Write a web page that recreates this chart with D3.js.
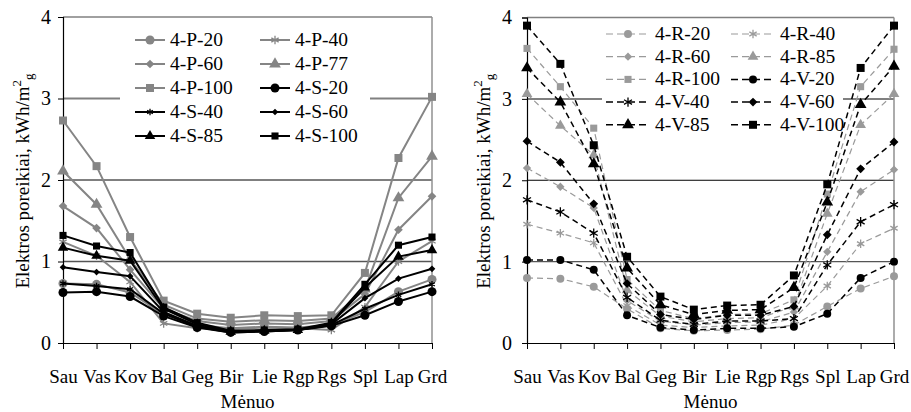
<!DOCTYPE html>
<html><head><meta charset="utf-8">
<script src="https://cdn.jsdelivr.net/npm/d3@7"></script>
<style>
body{margin:0;background:#fff;}
</style></head>
<body><svg id="c" width="911" height="412"></svg>
<script>
const months = ["Sau","Vas","Kov","Bal","Geg","Bir","Lie","Rgp","Rgs","Spl","Lap","Grd"];
const yTicks = [0,1,2,3,4];
const xTitle = "Mėnuo";

const leftNames = ["4-P-20","4-P-40","4-P-60","4-P-77","4-P-100","4-S-20","4-S-40","4-S-60","4-S-85","4-S-100"];
const p20  = [0.73,0.72,0.62,0.35,0.22,0.18,0.20,0.19,0.22,0.38,0.63,0.78];
const p40  = [1.24,1.07,0.75,0.24,0.18,0.17,0.19,0.18,0.16,0.44,1.00,1.25];
const p60  = [1.68,1.41,0.90,0.42,0.27,0.22,0.24,0.23,0.27,0.60,1.39,1.80];
const p77  = [2.11,1.70,1.03,0.47,0.30,0.26,0.28,0.27,0.30,0.66,1.78,2.29];
const p100 = [2.73,2.17,1.30,0.52,0.36,0.31,0.34,0.33,0.34,0.86,2.27,3.02];
const s20  = [0.62,0.63,0.57,0.33,0.19,0.13,0.14,0.16,0.21,0.34,0.51,0.63];
const s40  = [0.73,0.70,0.66,0.36,0.20,0.13,0.14,0.16,0.22,0.42,0.59,0.72];
const s60  = [0.93,0.87,0.82,0.38,0.21,0.14,0.15,0.16,0.23,0.55,0.79,0.91];
const s85  = [1.17,1.07,1.01,0.42,0.23,0.14,0.15,0.16,0.24,0.68,1.06,1.14];
const s100 = [1.32,1.19,1.11,0.44,0.25,0.15,0.16,0.17,0.25,0.72,1.20,1.30];

const rightNames = ["4-R-20","4-R-40","4-R-60","4-R-85","4-R-100","4-V-20","4-V-40","4-V-60","4-V-85","4-V-100"];
const r20  = [0.80,0.79,0.69,0.42,0.18,0.15,0.16,0.17,0.22,0.45,0.67,0.82];
const r40  = [1.46,1.35,1.23,0.46,0.22,0.19,0.21,0.22,0.30,0.70,1.22,1.41];
const r60  = [2.15,1.92,1.66,0.52,0.27,0.22,0.25,0.26,0.38,1.12,1.86,2.13];
const r85  = [3.06,2.67,2.31,0.65,0.33,0.26,0.30,0.31,0.45,1.59,2.68,3.06];
const r100 = [3.62,3.15,2.64,0.78,0.40,0.30,0.35,0.36,0.53,1.83,3.15,3.61];
const v20  = [1.02,1.02,0.90,0.34,0.19,0.16,0.18,0.18,0.20,0.36,0.80,1.00];
const v40  = [1.76,1.61,1.35,0.56,0.28,0.23,0.27,0.27,0.30,0.96,1.49,1.70];
const v60  = [2.48,2.22,1.71,0.73,0.35,0.29,0.34,0.34,0.45,1.33,2.14,2.47];
const v85  = [3.38,2.96,2.20,0.92,0.47,0.35,0.40,0.41,0.68,1.73,2.93,3.40];
const v100 = [3.90,3.43,2.43,1.06,0.57,0.41,0.46,0.47,0.83,1.95,3.38,3.90];

const FONT = "Liberation Serif";
const svg = d3.select("#c");
const GL = "#858585", GR = "#9a9a9a";

function sym(type){
  return {circle:d3.symbolCircle, asterisk:d3.symbolAsterisk, diamond:d3.symbolDiamond2,
          triangle:d3.symbolTriangle, square:d3.symbolSquare}[type];
}
function drawMarker(sel, s){
  const p = d3.symbol().type(sym(s.shape)).size(s.size)();
  const m = sel.append("path").attr("d", p);
  if (s.shape === "asterisk") m.attr("fill","none").attr("stroke", s.color).attr("stroke-width",1.3);
  else m.attr("fill", s.color).attr("stroke","none");
  return m;
}

function panel(cfg){
  const x = d3.scalePoint().domain(months).range([cfg.x0, cfg.x1]);
  const y = d3.scaleLinear().domain([0,4]).range([cfg.yb, cfg.yt]);
  const g = svg.append("g");
  const gridStyle = {1:["#555",1.4],2:["#000",1],3:["#808080",2]};
  [1,2,3].forEach(v=>{
    g.append("line").attr("x1",cfg.x0).attr("x2",cfg.x1).attr("y1",y(v)).attr("y2",y(v))
     .attr("stroke",gridStyle[v][0]).attr("stroke-width",gridStyle[v][1]);
  });
  g.append("line").attr("x1",cfg.x0).attr("x2",cfg.x1).attr("y1",y(4)).attr("y2",y(4)).attr("stroke","#808080").attr("stroke-width",1.5);
  g.append("line").attr("x1",cfg.x1).attr("x2",cfg.x1).attr("y1",y(4)).attr("y2",y(0)).attr("stroke","#909090").attr("stroke-width",1.5);
  const ya = g.append("g").attr("transform",`translate(${cfg.x0},0)`)
    .call(d3.axisLeft(y).tickValues(yTicks).tickFormat(d3.format("d")).tickSize(5).tickPadding(cfg.tickPad));
  ya.attr("font-family",FONT).attr("font-size",20);
  ya.select(".domain").attr("stroke","#000").attr("stroke-width",1.2);
  ya.selectAll("text").attr("fill","#000");
  const xa = g.append("g").attr("transform",`translate(0,${cfg.yb})`)
    .call(d3.axisBottom(x).tickSize(6).tickPadding(20).tickSizeOuter(0));
  xa.attr("font-family",FONT).attr("font-size",19);
  xa.select(".domain").attr("stroke","#000").attr("stroke-width",1.2);
  xa.selectAll("line").attr("stroke","#000");
  xa.selectAll("text").attr("fill","#000").attr("dy","0").attr("y",40);
  g.append("text").attr("x",(cfg.x0+cfg.x1)/2).attr("y",408).attr("text-anchor","middle")
    .attr("font-size",19).attr("font-family",FONT).text(xTitle);
  const yl = g.append("text").attr("transform",`translate(${cfg.ylx},${(cfg.yt+cfg.yb)/2+1}) rotate(-90)`)
    .attr("text-anchor","middle").attr("font-size",19).attr("font-family",FONT);
  yl.append("tspan").text("Elektros poreikiai, kWh/m");
  yl.append("tspan").attr("font-size",13).attr("dy",-8).text("2");
  yl.append("tspan").attr("font-size",13).attr("dy",12).text("g");
  g.append("rect").attr("x",cfg.leg.x).attr("y",cfg.leg.y).attr("width",cfg.leg.w).attr("height",cfg.leg.h).attr("fill","#fff");
  const line = d3.line().x((d,i)=>x(months[i])).y(d=>y(d));
  cfg.series.forEach(s=>{
    const pth = g.append("path").datum(s.values).attr("d",line).attr("fill","none")
      .attr("stroke",s.color).attr("stroke-width",s.width);
    if (s.dash) pth.attr("stroke-dasharray",s.dash);
    s.values.forEach((v,i)=>{
      drawMarker(g,s).attr("transform",`translate(${x(months[i])},${y(v)})`);
    });
  });
  cfg.series.forEach((s,k)=>{
    const col = k%2, row = Math.floor(k/2);
    const lx = cfg.leg.cols[col], ly = cfg.leg.r0 + row*cfg.leg.dy;
    const ln = g.append("line").attr("x1",lx).attr("x2",lx+cfg.leg.len).attr("y1",ly).attr("y2",ly)
      .attr("stroke",s.color).attr("stroke-width",s.width);
    if (s.dash) ln.attr("stroke-dasharray",cfg.leg.dash);
    drawMarker(g,s).attr("transform",`translate(${lx+cfg.leg.len/2},${ly})`);
    g.append("text").attr("x",lx+cfg.leg.len+5).attr("y",ly+6).attr("font-size",19.5)
      .attr("font-family",FONT).text(s.name);
  });
}

const shapes = ["circle","asterisk","diamond","triangle","square"];
const leftVals = [p20,p40,p60,p77,p100,s20,s40,s60,s85,s100];
const leftSizes = [64,50,48,60,64, 64,30,28,48,50];
const leftSeries = leftNames.map((n,i)=>({name:n, values:leftVals[i], shape:shapes[i%5],
  color: i<5?GL:"#000", width:2, size:leftSizes[i]}));
panel({x0:63,x1:432,yt:17,yb:343,tickPad:7,ylx:29,series:leftSeries,
  leg:{x:120,y:26,w:250,h:122,cols:[135,260],r0:40,dy:24,len:30,dash:null}});

const rightVals = [r20,r40,r60,r85,r100,v20,v40,v60,v85,v100];
const rightSizes = [50,50,44,50,50, 50,60,50,60,64];
const rightSeries = rightNames.map((n,i)=>({name:n, values:rightVals[i], shape:shapes[i%5],
  color: i<5?GR:"#000", width: i<5?1.2:1.5, size:rightSizes[i], dash:"6,4"}));
panel({x0:527,x1:894,yt:17.5,yb:343,tickPad:10,ylx:490,series:rightSeries,
  leg:{x:602,y:22,w:241,h:115,cols:[606,731],r0:34,dy:22.7,len:44,dash:"7,4"}});
</script></body></html>
